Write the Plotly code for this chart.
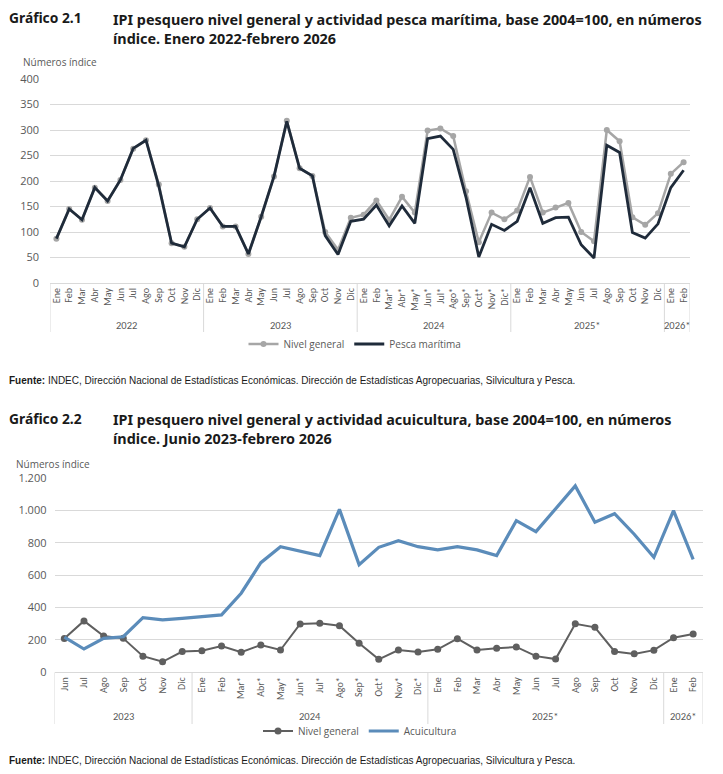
import plotly.graph_objects as go

# the page adds an 8 px body margin, so the figure is drawn 8 px in from the window corner
OFF = 8
W, H = 723 - 2 * OFF, 774 - 2 * OFF

# ---------------- data ----------------
months_1 = ["Ene","Feb","Mar","Abr","May","Jun","Jul","Ago","Sep","Oct","Nov","Dic",
            "Ene","Feb","Mar","Abr","May","Jun","Jul","Ago","Sep","Oct","Nov","Dic",
            "Ene","Feb","Mar*","Abr*","May*","Jun*","Jul*","Ago*","Sep*","Oct*","Nov*","Dic*",
            "Ene","Feb","Mar","Abr","May","Jun","Jul","Ago","Sep","Oct","Nov","Dic",
            "Ene","Feb"]
years_1 = ["2022"]*12 + ["2023"]*12 + ["2024"]*12 + ["2025*"]*12 + ["2026*"]*2

nivel_general = [87, 145, 124, 187, 161, 202, 263, 280, 193, 78, 71, 125,
                 147, 111, 111, 57, 130, 209, 318, 225, 210, 100, 65, 128,
                 134, 162, 124, 169, 138, 299, 303, 288, 180, 80, 138, 125,
                 142, 208, 138, 148, 157, 100, 82, 300, 278, 129, 114, 137,
                 214, 237]
pesca_maritima = [87, 145, 124, 187, 161, 202, 264, 280, 190, 78, 71, 125,
                  147, 111, 111, 57, 130, 209, 317, 225, 210, 93, 56, 121,
                  125, 153, 112, 151, 117, 283, 288, 262, 168, 51, 115, 103,
                  121, 187, 117, 128, 129, 75, 49, 270, 256, 99, 88, 116,
                  187, 221]

months_2 = ["Jun","Jul","Ago","Sep","Oct","Nov","Dic",
            "Ene","Feb","Mar*","Abr*","May*","Jun*","Jul*","Ago*","Sep*","Oct*","Nov*","Dic*",
            "Ene","Feb","Mar","Abr","May","Jun","Jul","Ago","Sep","Oct","Nov","Dic",
            "Ene","Feb"]
years_2 = ["2023"]*7 + ["2024"]*12 + ["2025*"]*12 + ["2026*"]*2

nivel_general_2 = nivel_general[17:]
acuicultura = [218, 144, 210, 220, 338, 324, 334,
               344, 355, 489, 678, 777, 750, 722, 1008, 666, 773, 814, 777,
               757, 777, 757, 722, 938, 870, 1008, 1153, 928, 981, 854, 711,
               1000, 699]

y1_ticks = [0, 50, 100, 150, 200, 250, 300, 350, 400]
y2_ticks = [0, 200, 400, 600, 800, 1000, 1200]
y2_ticktext = ["0", "200", "400", "600", "800", "1.000", "1.200"]

# ---------------- helpers (window pixels -> paper fractions) ----------------
def px_x(p):
    return (p - OFF) / W

def px_y(p):
    return 1 - (p - OFF) / H

GRID = "#d9d9d9"
TICK = "#595959"
MONTHFONT = dict(family="Carlito, Calibri, Open Sans", size=10, color=TICK)
YFONT = dict(family="Open Sans", size=11, color=TICK)
LEGFONT = dict(family="Open Sans", size=10, color=TICK)

idx_1 = list(range(len(months_1)))
idx_2 = list(range(len(months_2)))

fig = go.Figure()

fig.add_trace(go.Scatter(
    x=idx_1, y=nivel_general, name="Nivel general",
    mode="lines+markers", line=dict(color="#a6a6a6", width=2.5),
    marker=dict(color="#a6a6a6", size=6), xaxis="x", yaxis="y", legend="legend"))
fig.add_trace(go.Scatter(
    x=idx_1, y=pesca_maritima, name="Pesca marítima",
    mode="lines", line=dict(color="#1f2b3a", width=2.8),
    xaxis="x", yaxis="y", legend="legend"))

fig.add_trace(go.Scatter(
    x=idx_2, y=nivel_general_2, name="Nivel general",
    mode="lines+markers", line=dict(color="#5f5f5f", width=2),
    marker=dict(color="#5f5f5f", size=7), xaxis="x2", yaxis="y2", legend="legend2"))
fig.add_trace(go.Scatter(
    x=idx_2, y=acuicultura, name="Acuicultura",
    mode="lines", line=dict(color="#5b8cba", width=3.2),
    xaxis="x2", yaxis="y2", legend="legend2"))

xaxis_common = dict(tickangle=-90, tickfont=MONTHFONT, tickmode="array",
                    showline=True, linecolor=GRID, linewidth=1,
                    showgrid=False, zeroline=False, ticks="", fixedrange=True,
                    automargin=False)
yaxis_common = dict(showgrid=True, gridcolor=GRID, gridwidth=1, zeroline=False,
                    tickfont=YFONT, ticks="", showline=False, fixedrange=True,
                    automargin=False)

fig.update_layout(
    width=W, height=H,
    margin=dict(l=0, r=0, t=0, b=0, autoexpand=False),
    paper_bgcolor="white", plot_bgcolor="white",
    showlegend=True,
    xaxis=dict(domain=[px_x(50), px_x(690)], anchor="y", range=[-0.5, len(idx_1) - 0.5],
               tickvals=idx_1, ticktext=months_1, **xaxis_common),
    yaxis=dict(domain=[px_y(283), px_y(79)], anchor="x", range=[0, 400],
               tickvals=y1_ticks, ticklabelstandoff=10, **yaxis_common),
    xaxis2=dict(domain=[px_x(54.5), px_x(703)], anchor="y2", range=[-0.5, len(idx_2) - 0.5],
                tickvals=idx_2, ticktext=months_2, **xaxis_common),
    yaxis2=dict(domain=[px_y(672.3), px_y(478.3)], anchor="x2", range=[0, 1200],
                tickvals=y2_ticks, ticktext=y2_ticktext, ticklabelstandoff=7, **yaxis_common),
    legend=dict(orientation="h", x=px_x(355), y=px_y(344), xanchor="center", yanchor="middle",
                font=LEGFONT, bgcolor="rgba(0,0,0,0)", itemwidth=30),
    legend2=dict(orientation="h", x=px_x(360), y=px_y(731), xanchor="center", yanchor="middle",
                 font=LEGFONT, bgcolor="rgba(0,0,0,0)", itemwidth=30),
)

# ---- year group labels and dividers (derived from the year arrays) ----
shapes = []
ann = []
for years, xref, ytop, ybot, ylab in [(years_1, "x", 283, 332, 325), (years_2, "x2", 672.3, 724, 716)]:
    bounds = [-0.5]
    groups = []
    start = 0
    for i in range(1, len(years) + 1):
        if i == len(years) or years[i] != years[i - 1]:
            groups.append((years[start], (start + i - 1) / 2))
            bounds.append(i - 0.5)
            start = i
    for b in bounds:
        shapes.append(dict(type="line", xref=xref, yref="paper", x0=b, x1=b,
                           y0=px_y(ytop), y1=px_y(ybot), line=dict(color=GRID, width=1)))
    for name, cx in groups:
        ann.append(dict(text=name, x=cx, xref=xref, y=px_y(ylab), yref="paper",
                        xanchor="center", yanchor="middle", showarrow=False,
                        font=dict(family="Carlito, Calibri, Open Sans", size=10.5, color=TICK)))

TITLE_FONT = dict(family="Noto Sans", size=14.4, color="#1a1a1a")
LAB_FONT = dict(family="Noto Sans", size=13.8, color="#1a1a1a")
for (lab, l1, l2, ytop, xnum, ynum, yfuente) in [
    ("Gráfico 2.1",
     "IPI pesquero nivel general y actividad pesca marítima, base 2004=100, en números",
     "índice. Enero 2022-febrero 2026",
     18, 21, 62, 380),
    ("Gráfico 2.2",
     "IPI pesquero nivel general y actividad acuicultura, base 2004=100, en números",
     "índice. Junio 2023-febrero 2026",
     418, 14, 464, 760),
]:
    ann.append(dict(text="<b>" + lab + "</b>", x=px_x(7), y=px_y(ytop), xref="paper", yref="paper",
                    xanchor="left", yanchor="middle", showarrow=False, font=LAB_FONT, align="left"))
    ann.append(dict(text="<b>" + l1 + "</b><br><b>" + l2 + "</b>", x=px_x(111), y=px_y(ytop - 10),
                    xref="paper", yref="paper", xanchor="left", yanchor="top", showarrow=False,
                    font=TITLE_FONT, align="left"))
    ann.append(dict(text="Números índice", x=px_x(xnum), y=px_y(ynum), xref="paper", yref="paper",
                    xanchor="left", yanchor="middle", showarrow=False,
                    font=dict(family="Open Sans", size=10, color=TICK)))
    ann.append(dict(text="<b>Fuente:</b> INDEC, Dirección Nacional de Estadísticas Económicas. Dirección de Estadísticas Agropecuarias, Silvicultura y Pesca.",
                    x=px_x(7), y=px_y(yfuente), xref="paper", yref="paper", xanchor="left", yanchor="middle",
                    showarrow=False, font=dict(family="Liberation Sans", size=10, color="#1a1a1a")))

fig.update_layout(annotations=ann, shapes=shapes)

fig.write_html("out.html")
